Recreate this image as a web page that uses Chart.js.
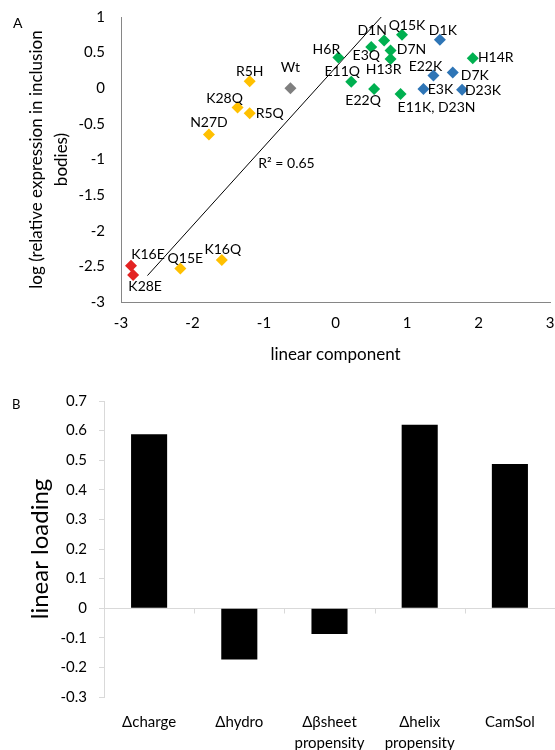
<!DOCTYPE html>
<html>
<head>
<meta charset="utf-8">
<script src="https://cdn.jsdelivr.net/npm/chart.js"></script>
<style>
  body { margin: 0; background: #fff; }
  #wrap { position: relative; width: 555px; height: 750px; font-family: Lato, "DejaVu Sans", sans-serif; }
  canvas { position: absolute; left: 0; }
  .panel { position: absolute; font-size: 14px; line-height: 18px; color: #000; }
</style>
</head>
<body>
<div id="wrap">
  <canvas id="chartA" width="555" height="375" style="top:0"></canvas>
  <canvas id="chartB" width="555" height="370" style="top:380px"></canvas>
  <div class="panel" style="left:13px; top:14px">A</div>
  <div class="panel" style="left:12px; top:395px; font-size:13px">B</div>
</div>
<script>
// panel A: mutants, grouped by colour
const goldNames = ['R5H', 'K28Q', 'R5Q', 'N27D', 'Q15E', 'K16Q'];
const goldX = [-1.20, -1.37, -1.20, -1.77, -2.17, -1.59];
const goldY = [0.10, -0.27, -0.35, -0.65, -2.53, -2.41];

const redNames = ['K16E', 'K28E'];
const redX = [-2.86, -2.83];
const redY = [-2.49, -2.62];

const greyNames = ['Wt'];
const greyX = [-0.63];
const greyY = [0.0];

const greenNames = ['H6R', 'E11Q', 'E3Q', 'D1N', 'Q15K', 'D7N', 'H13R', 'E22Q', 'E11K, D23N', 'H14R'];
const greenX = [0.04, 0.22, 0.50, 0.68, 0.93, 0.77, 0.77, 0.54, 0.91, 1.92];
const greenY = [0.43, 0.09, 0.58, 0.67, 0.75, 0.53, 0.41, -0.01, -0.08, 0.42];

const blueNames = ['D1K', 'E22K', 'D7K', 'E3K', 'D23K'];
const blueX = [1.46, 1.37, 1.64, 1.23, 1.77];
const blueY = [0.68, 0.18, 0.22, -0.01, -0.02];

// linear trendline
const trendSlope = 1.11;
const trendIntercept = 0.29;
const trendRange = [-2.63, 0.64];
const rSquared = 0.65;

// panel B: loadings
const properties = ['Δcharge', 'Δhydro', ['Δβsheet', 'propensity'], ['Δhelix', 'propensity'], 'CamSol'];
const loadings = [0.588, -0.173, -0.087, 0.62, 0.487];

// label placement (pixel offset of text centre from the marker)
const goldOffsets = [[0, -10], [-13, -9], [20, 0], [0, -12], [5, -10], [1, -10]];
const redOffsets = [[17, -11], [12, 12]];
const greyOffsets = [[0, -21]];
const greenOffsets = [[-12, -8], [-9, -10], [-5, 9], [-12, -10], [5, -9], [21, -1], [-7, 10], [-11, 12], [36, 14], [23, -1]];
const blueOffsets = [[3, -9], [-8, -9], [22, 3], [17, 1], [21, 1]];

Chart.defaults.font.family = 'Lato, "DejaVu Sans", sans-serif';
Chart.defaults.color = '#000';

function points(xs, ys) {
    return xs.map((x, i) => ({ x: x, y: ys[i] }));
}

function group(names, xs, ys, colour, offsets) {
    return {
        data: points(xs, ys),
        names: names,
        offsets: offsets,
        backgroundColor: colour,
        borderColor: colour,
        borderWidth: 0,
        pointStyle: 'rectRot',
        pointRadius: 6
    };
}

const pointLabels = {
    id: 'pointLabels',
    afterDatasetsDraw(chart) {
        const ctx = chart.ctx;
        ctx.save();
        ctx.font = '14px Lato, "DejaVu Sans", sans-serif';
        ctx.fillStyle = '#000';
        ctx.textAlign = 'center';
        ctx.textBaseline = 'middle';
        chart.data.datasets.forEach((ds, i) => {
            if (!ds.names) return;
            chart.getDatasetMeta(i).data.forEach((pt, j) => {
                const off = ds.offsets[j];
                ctx.fillText(ds.names[j], pt.x + off[0], pt.y + off[1]);
            });
        });
        // R² annotation next to the trendline
        ctx.textAlign = 'left';
        ctx.fillText('R² = ' + rSquared, chart.scales.x.getPixelForValue(-1.08), chart.scales.y.getPixelForValue(-1.05));
        ctx.restore();
    }
};

// tick marks are invisible; their length only spaces the labels from the axis
new Chart(document.getElementById('chartA'), {
    type: 'scatter',
    data: {
        datasets: [
            group(goldNames, goldX, goldY, '#FFC000', goldOffsets),
            group(redNames, redX, redY, '#E32322', redOffsets),
            group(greyNames, greyX, greyY, '#7F7F7F', greyOffsets),
            group(greenNames, greenX, greenY, '#00B050', greenOffsets),
            group(blueNames, blueX, blueY, '#2E75B6', blueOffsets),
            {
                type: 'line',
                data: trendRange.map(x => ({ x: x, y: trendSlope * x + trendIntercept })),
                borderColor: '#000',
                borderWidth: 1,
                pointRadius: 0,
                showLine: true,
                fill: false
            }
        ]
    },
    options: {
        responsive: false,
        animation: false,
        layout: { autoPadding: false, padding: { top: 17, right: 5, left: 0, bottom: 0 } },
        plugins: { legend: { display: false }, tooltip: { enabled: false } },
        scales: {
            x: {
                type: 'linear',
                min: -3, max: 3,
                ticks: { stepSize: 1, padding: 0, font: { size: 15 } },
                grid: { drawOnChartArea: false, drawTicks: true, tickLength: 12, tickColor: 'rgba(0,0,0,0)' },
                border: { color: '#868686' },
                title: { display: true, text: 'linear component', font: { size: 17 }, padding: { top: 0, bottom: 10 } },
                afterFit(scale) { scale.height = 73; }
            },
            y: {
                min: -3, max: 1,
                ticks: {
                    stepSize: 0.5,
                    padding: 0,
                    font: { size: 15 },
                    callback: v => String(Math.round(v * 10) / 10)
                },
                grid: { drawOnChartArea: false, drawTicks: true, tickLength: 16, tickColor: 'rgba(0,0,0,0)' },
                border: { color: '#868686' },
                title: {
                    display: true,
                    text: ['log (relative expression in inclusion', 'bodies)'],
                    font: { size: 17, lineHeight: 1.47 },
                    padding: { top: 24, bottom: 0 }
                },
                afterFit(scale) { scale.width = 121; }
            }
        }
    },
    plugins: [pointLabels]
});

const boundaryTicks = {
    id: 'boundaryTicks',
    afterDraw(chart) {
        const xs = chart.scales.x, ys = chart.scales.y, ctx = chart.ctx;
        const y0 = Math.round(ys.getPixelForValue(0)) + 0.5;
        const half = (xs.getPixelForValue(1) - xs.getPixelForValue(0)) / 2;
        ctx.save();
        ctx.strokeStyle = '#d9d9d9';
        ctx.lineWidth = 1;
        for (let i = 0; i < properties.length - 1; i++) {
            const px = Math.round(xs.getPixelForValue(i) + half) + 0.5;
            ctx.beginPath();
            ctx.moveTo(px, y0);
            ctx.lineTo(px, y0 + 5);
            ctx.stroke();
        }
        ctx.restore();
    }
};

new Chart(document.getElementById('chartB'), {
    type: 'bar',
    data: {
        labels: properties,
        datasets: [{
            data: loadings,
            backgroundColor: '#000',
            borderWidth: 0,
            categoryPercentage: 1,
            barPercentage: 0.4
        }]
    },
    options: {
        responsive: false,
        animation: false,
        layout: { autoPadding: false, padding: { top: 20, right: 0, left: 0, bottom: 0 } },
        plugins: { legend: { display: false }, tooltip: { enabled: false } },
        scales: {
            x: {
                ticks: { padding: 7, font: { size: 15, lineHeight: 1.4 }, maxRotation: 0, autoSkip: false },
                grid: { display: false },
                border: { display: false },
                afterFit(scale) { scale.height = 53; }
            },
            y: {
                min: -0.3, max: 0.7,
                ticks: {
                    stepSize: 0.1,
                    padding: 12,
                    font: { size: 15 },
                    callback: v => Math.abs(v) < 1e-9 ? '0' : v.toFixed(1)
                },
                grid: {
                    color: c => (c.tick && Math.abs(c.tick.value) < 1e-9) ? '#d9d9d9' : 'rgba(0,0,0,0)',
                    tickColor: '#d9d9d9',
                    tickLength: 5
                },
                border: { color: '#d9d9d9' },
                title: {
                    display: true,
                    text: 'linear loading',
                    font: { size: 24, lineHeight: 1.2 },
                    padding: { top: 25.6, bottom: 0 }
                },
                afterFit(scale) { scale.width = 104; }
            }
        }
    },
    plugins: [boundaryTicks]
});
</script>
</body>
</html>
